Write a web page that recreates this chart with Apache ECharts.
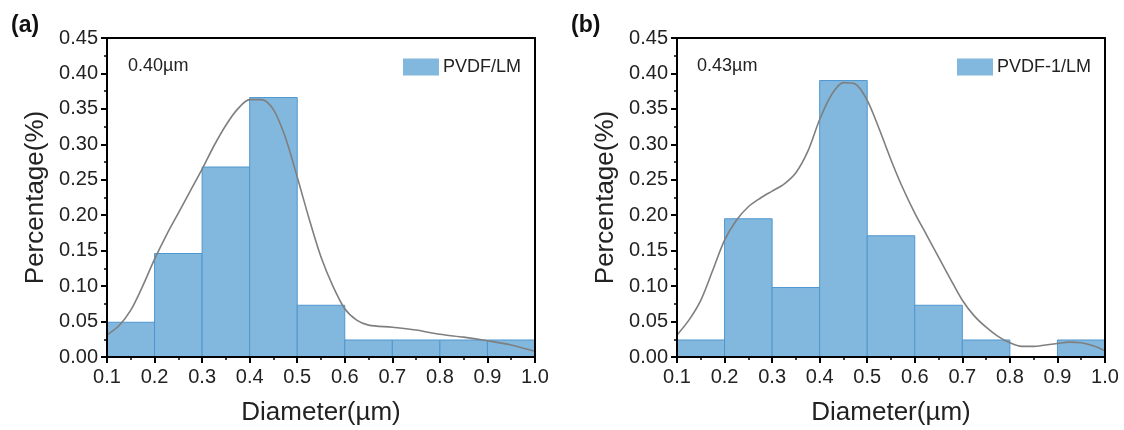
<!DOCTYPE html>
<html>
<head>
<meta charset="utf-8">
<script src="https://cdn.jsdelivr.net/npm/echarts@6/dist/echarts.min.js"></script>
<style>html,body{margin:0;padding:0;background:#fff;}#c{width:1124px;height:430px;}</style>
</head>
<body>
<div id="c"></div>
<script>
const binStarts = [0.1, 0.2, 0.3, 0.4, 0.5, 0.6, 0.7, 0.8, 0.9];
const binWidth = 0.1;
const pctA = [0.049, 0.146, 0.268, 0.366, 0.073, 0.024, 0.024, 0.024, 0.024];
const pctB = [0.024, 0.195, 0.098, 0.390, 0.171, 0.073, 0.024, 0, 0.024];
const curveXA = [0.1, 0.125, 0.15, 0.175, 0.2, 0.225, 0.25, 0.275, 0.3, 0.325, 0.35, 0.375, 0.4, 0.425, 0.45, 0.475, 0.5, 0.525, 0.55, 0.575, 0.6, 0.625, 0.65, 0.7, 0.75, 0.8, 0.85, 0.9, 0.95, 1.0];
const curveA = [0.031, 0.044, 0.066, 0.100, 0.138, 0.172, 0.203, 0.234, 0.265, 0.298, 0.327, 0.350, 0.363, 0.363, 0.349, 0.310, 0.254, 0.195, 0.141, 0.100, 0.068, 0.052, 0.045, 0.042, 0.038, 0.032, 0.028, 0.023, 0.017, 0.008];
const curveXB = [0.1, 0.125, 0.15, 0.175, 0.2, 0.225, 0.25, 0.275, 0.3, 0.325, 0.35, 0.375, 0.4, 0.425, 0.45, 0.475, 0.5, 0.525, 0.55, 0.575, 0.6, 0.625, 0.65, 0.675, 0.7, 0.725, 0.75, 0.775, 0.8, 0.825, 0.85, 0.875, 0.9, 0.925, 0.95, 0.975, 1.0];
const curveB = [0.031, 0.052, 0.080, 0.122, 0.165, 0.193, 0.212, 0.224, 0.234, 0.244, 0.260, 0.290, 0.335, 0.370, 0.387, 0.385, 0.362, 0.322, 0.278, 0.238, 0.203, 0.172, 0.141, 0.110, 0.080, 0.058, 0.042, 0.029, 0.020, 0.015, 0.015, 0.017, 0.019, 0.021, 0.020, 0.016, 0.009];
const xTicks = [0.1, 0.2, 0.3, 0.4, 0.5, 0.6, 0.7, 0.8, 0.9, 1.0];
const yTicks = [0, 0.05, 0.1, 0.15, 0.2, 0.25, 0.3, 0.35, 0.4, 0.45];
const seriesNames = ['PVDF/LM', 'PVDF-1/LM'];
const meanLabels = ['0.40µm', '0.43µm'];
const panelLabels = ['(a)', '(b)'];

const FONT = '"Liberation Sans", Arial, sans-serif';
const BAR_FILL = '#82b8de';
const BAR_STROKE = '#4f97cf';
const grids = [
  { left: 107, right: 589, top: 38, bottom: 73, outerBoundsMode: 'none', containLabel: false },
  { left: 677, right: 19, top: 38, bottom: 73, outerBoundsMode: 'none', containLabel: false }
];

function histData(vals) {
  return binStarts.map((s, i) => [s, s + binWidth, vals[i]]).filter(d => d[2] > 0);
}
function lineData(xs, vals) {
  return xs.map((x, i) => [x, vals[i]]);
}
function renderBar(params, api) {
  const p0 = api.coord([api.value(0), api.value(2)]);
  const p1 = api.coord([api.value(1), 0]);
  return {
    type: 'rect',
    shape: { x: p0[0], y: p0[1], width: p1[0] - p0[0], height: p1[1] - p0[1] },
    style: { fill: BAR_FILL, stroke: BAR_STROKE, lineWidth: 1 }
  };
}

const xAxes = [], yAxes = [], series = [], legends = [], graphics = [];
[0, 1].forEach(g => {
  xAxes.push({
    type: 'value', gridIndex: g, min: xTicks[0], max: xTicks[xTicks.length - 1], interval: 0.1,
    name: 'Diameter(µm)', nameLocation: 'middle', nameGap: 43,
    nameTextStyle: { fontFamily: FONT, fontSize: 26, color: '#222' },
    axisLine: { show: true, lineStyle: { color: '#000', width: 2 } },
    axisTick: { show: true, inside: false, length: 6, lineStyle: { color: '#000', width: 2 } },
    minorTick: { show: true, splitNumber: 2, length: 3, lineStyle: { color: '#000', width: 1.5 } },
    axisLabel: { fontFamily: FONT, fontSize: 20, color: '#222', margin: 10,
      formatter: v => v.toFixed(1), showMinLabel: true, showMaxLabel: true },
    splitLine: { show: false }, z: 5
  });
  xAxes.push({
    type: 'value', gridIndex: g, position: 'top', min: xTicks[0], max: xTicks[xTicks.length - 1],
    axisLine: { show: true, onZero: false, lineStyle: { color: '#000', width: 2 } },
    axisTick: { show: false }, axisLabel: { show: false }, splitLine: { show: false }, z: 5
  });
  yAxes.push({
    type: 'value', gridIndex: g, min: yTicks[0], max: yTicks[yTicks.length - 1], interval: 0.05,
    name: 'Percentage(%)', nameLocation: 'middle', nameGap: 58,
    nameTextStyle: { fontFamily: FONT, fontSize: 26, color: '#222' },
    axisLine: { show: true, lineStyle: { color: '#000', width: 2 } },
    axisTick: { show: true, inside: false, length: 6, lineStyle: { color: '#000', width: 2 } },
    minorTick: { show: true, splitNumber: 2, length: 3, lineStyle: { color: '#000', width: 1.5 } },
    axisLabel: { fontFamily: FONT, fontSize: 20, color: '#222', margin: 9,
      formatter: v => v.toFixed(2), showMinLabel: true, showMaxLabel: true },
    splitLine: { show: false }, z: 5
  });
  yAxes.push({
    type: 'value', gridIndex: g, position: 'right', min: yTicks[0], max: yTicks[yTicks.length - 1],
    axisLine: { show: true, onZero: false, lineStyle: { color: '#000', width: 2 } },
    axisTick: { show: false }, axisLabel: { show: false }, splitLine: { show: false }, z: 5
  });
  series.push({
    type: 'custom', name: seriesNames[g], xAxisIndex: g * 2, yAxisIndex: g * 2,
    data: histData(g === 0 ? pctA : pctB), renderItem: renderBar,
    itemStyle: { color: BAR_FILL }, encode: { x: [0, 1], y: 2 }, z: 2
  });
  series.push({
    type: 'line', name: 'fit' + g, xAxisIndex: g * 2, yAxisIndex: g * 2,
    data: g === 0 ? lineData(curveXA, curveA) : lineData(curveXB, curveB),
    smooth: 0.3, showSymbol: false, symbol: 'none',
    lineStyle: { color: '#7f7f7f', width: 1.6 }, z: 3, silent: true
  });
  legends.push({
    data: [seriesNames[g]], left: g === 0 ? 403 : 957, top: 58, orient: 'vertical',
    icon: 'rect', itemWidth: 36, itemHeight: 17, padding: 0,
    textStyle: { fontFamily: FONT, fontSize: 18, color: '#222', padding: [0, 0, 0, -1] }
  });
  graphics.push({
    type: 'text', left: g === 0 ? 128 : 697, top: 57,
    style: { text: meanLabels[g], fontFamily: FONT, fontSize: 18, fill: '#222' }
  });
  graphics.push({
    type: 'text', left: g === 0 ? 11 : 571, top: 14,
    style: { text: panelLabels[g], fontFamily: FONT, fontSize: 23, fontWeight: 'bold', fill: '#111' }
  });
});

const chart = echarts.init(document.getElementById('c'), null, { renderer: 'canvas' });
chart.setOption({
  animation: false,
  backgroundColor: '#fff',
  grid: grids,
  xAxis: xAxes,
  yAxis: yAxes,
  legend: legends,
  graphic: graphics,
  series: series
});
</script>
</body>
</html>
